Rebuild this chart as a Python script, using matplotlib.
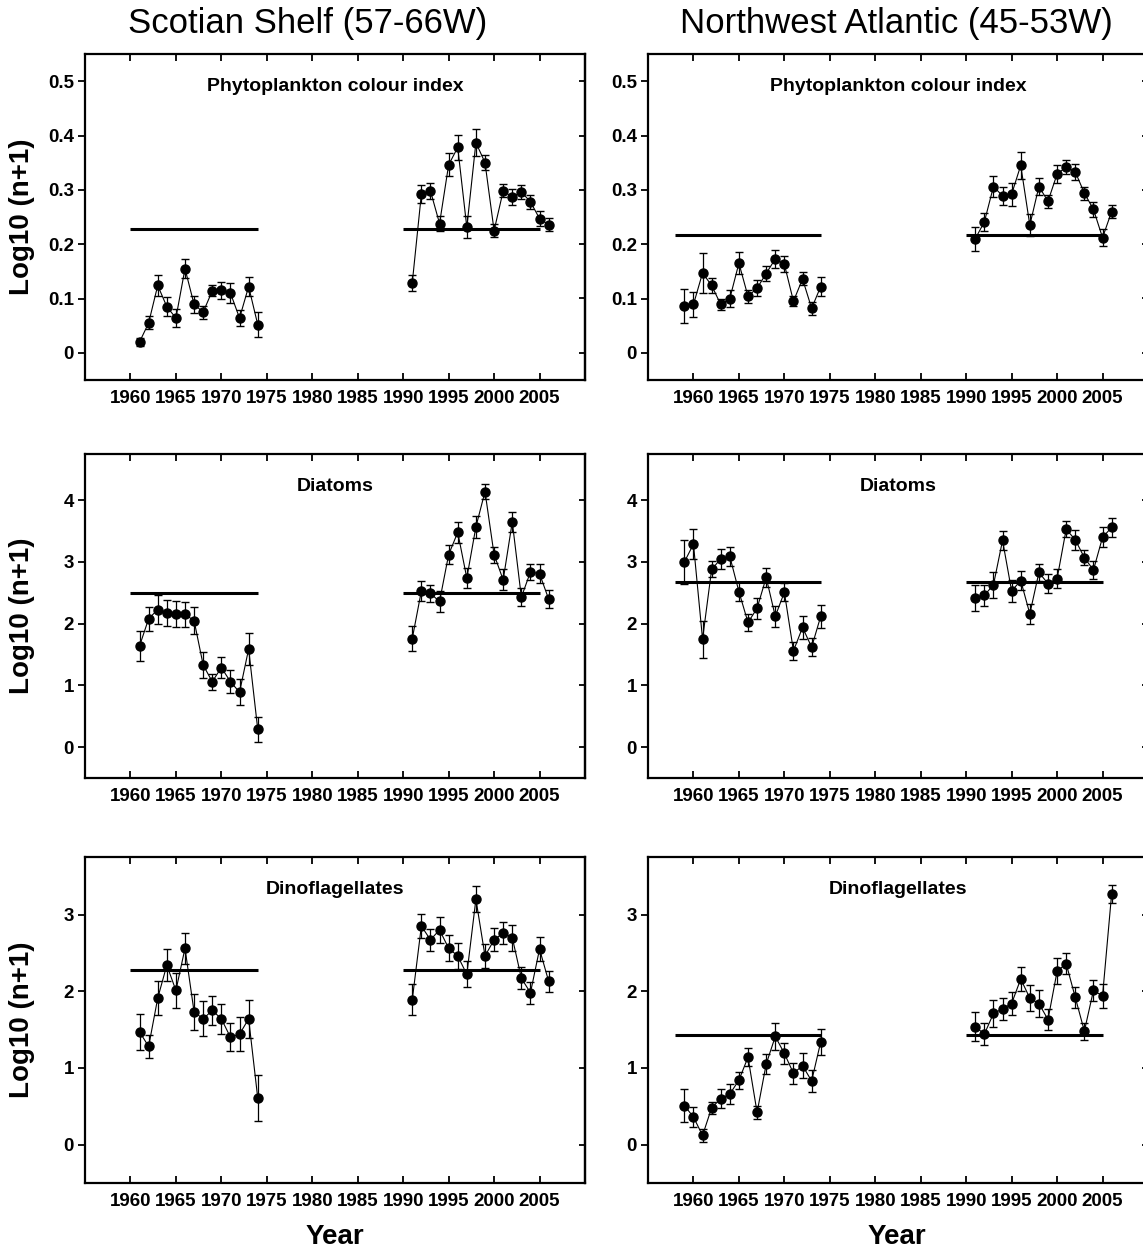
import numpy as np
import matplotlib
matplotlib.use('Agg')
import matplotlib.pyplot as plt

plt.rcParams['font.family'] = ['Liberation Sans', 'DejaVu Sans']

# years sampled
ss_early = list(range(1961, 1975))
nw_early = list(range(1959, 1975))
late = list(range(1991, 2007))

# long-term mean line spans (start year, end year)
ss_spans = [(1960, 1974), (1990, 2005)]
nw_spans = [(1958, 1974), (1990, 2005)]

# Scotian Shelf - phytoplankton colour index
ss_pci_a = [0.020, 0.055, 0.124, 0.085, 0.064, 0.155, 0.089, 0.075, 0.114, 0.115, 0.110, 0.064, 0.122, 0.052]
ss_pci_a_err = [0.008, 0.012, 0.019, 0.017, 0.016, 0.017, 0.015, 0.012, 0.010, 0.015, 0.018, 0.015, 0.018, 0.023]
ss_pci_b = [0.129, 0.292, 0.298, 0.238, 0.346, 0.378, 0.231, 0.387, 0.350, 0.225, 0.298, 0.287, 0.296, 0.278, 0.247, 0.236]
ss_pci_b_err = [0.015, 0.017, 0.015, 0.013, 0.021, 0.023, 0.020, 0.025, 0.014, 0.012, 0.012, 0.014, 0.012, 0.013, 0.014, 0.012]
ss_pci_mean = 0.228

# Northwest Atlantic - phytoplankton colour index
nw_pci_a = [0.086, 0.089, 0.147, 0.124, 0.089, 0.100, 0.165, 0.104, 0.119, 0.146, 0.173, 0.163, 0.095, 0.136, 0.082, 0.122]
nw_pci_a_err = [0.031, 0.023, 0.036, 0.014, 0.011, 0.015, 0.020, 0.012, 0.015, 0.014, 0.017, 0.015, 0.009, 0.012, 0.012, 0.017]
nw_pci_b = [0.210, 0.241, 0.306, 0.289, 0.292, 0.345, 0.235, 0.306, 0.279, 0.329, 0.342, 0.333, 0.294, 0.264, 0.212, 0.260]
nw_pci_b_err = [0.022, 0.017, 0.020, 0.017, 0.021, 0.025, 0.020, 0.015, 0.012, 0.017, 0.012, 0.014, 0.012, 0.014, 0.015, 0.012]
nw_pci_mean = 0.216

# Scotian Shelf - diatoms
ss_dia_a = [1.64, 2.08, 2.23, 2.18, 2.15, 2.15, 2.05, 1.33, 1.06, 1.29, 1.06, 0.89, 1.59, 0.29]
ss_dia_a_err = [0.24, 0.19, 0.23, 0.21, 0.21, 0.20, 0.22, 0.21, 0.13, 0.17, 0.19, 0.21, 0.26, 0.20]
ss_dia_b = [1.76, 2.53, 2.49, 2.36, 3.12, 3.48, 2.74, 3.57, 4.14, 3.12, 2.71, 3.65, 2.43, 2.84, 2.81, 2.40]
ss_dia_b_err = [0.20, 0.17, 0.14, 0.17, 0.16, 0.17, 0.16, 0.18, 0.12, 0.13, 0.17, 0.16, 0.15, 0.13, 0.15, 0.15]
ss_dia_mean = 2.495

# Northwest Atlantic - diatoms
nw_dia_a = [3.00, 3.29, 1.75, 2.88, 3.05, 3.09, 2.52, 2.02, 2.25, 2.75, 2.12, 2.51, 1.56, 1.94, 1.62, 2.12]
nw_dia_a_err = [0.35, 0.24, 0.30, 0.13, 0.16, 0.15, 0.15, 0.13, 0.17, 0.16, 0.17, 0.15, 0.15, 0.19, 0.15, 0.19]
nw_dia_b = [2.42, 2.46, 2.63, 3.35, 2.53, 2.70, 2.16, 2.83, 2.65, 2.73, 3.53, 3.36, 3.07, 2.87, 3.40, 3.56]
nw_dia_b_err = [0.21, 0.17, 0.21, 0.15, 0.18, 0.15, 0.16, 0.13, 0.16, 0.15, 0.13, 0.16, 0.12, 0.15, 0.16, 0.15]
nw_dia_mean = 2.68

# Scotian Shelf - dinoflagellates
ss_din_a = [1.47, 1.28, 1.91, 2.34, 2.01, 2.56, 1.73, 1.64, 1.75, 1.64, 1.40, 1.44, 1.64, 0.61]
ss_din_a_err = [0.23, 0.15, 0.22, 0.21, 0.23, 0.20, 0.23, 0.23, 0.19, 0.20, 0.18, 0.22, 0.25, 0.30]
ss_din_b = [1.89, 2.85, 2.67, 2.80, 2.56, 2.46, 2.22, 3.20, 2.46, 2.67, 2.76, 2.70, 2.17, 1.98, 2.55, 2.13]
ss_din_b_err = [0.20, 0.16, 0.14, 0.17, 0.17, 0.17, 0.17, 0.17, 0.16, 0.15, 0.14, 0.17, 0.14, 0.14, 0.16, 0.14]
ss_din_mean = 2.28

# Northwest Atlantic - dinoflagellates
nw_din_a = [0.51, 0.36, 0.12, 0.48, 0.60, 0.66, 0.84, 1.14, 0.42, 1.05, 1.41, 1.19, 0.93, 1.03, 0.83, 1.34]
nw_din_a_err = [0.21, 0.13, 0.09, 0.08, 0.12, 0.13, 0.11, 0.12, 0.09, 0.13, 0.17, 0.14, 0.14, 0.16, 0.14, 0.17]
nw_din_b = [1.54, 1.44, 1.71, 1.77, 1.84, 2.16, 1.91, 1.84, 1.63, 2.26, 2.36, 1.92, 1.48, 2.01, 1.94, 3.27]
nw_din_b_err = [0.19, 0.14, 0.17, 0.14, 0.15, 0.16, 0.17, 0.17, 0.14, 0.17, 0.14, 0.14, 0.11, 0.14, 0.16, 0.12]
nw_din_mean = 1.425

row_titles = ['Phytoplankton colour index', 'Diatoms', 'Dinoflagellates']
row_ylims = [(-0.05, 0.55), (-0.5, 4.75), (-0.5, 3.75)]
row_yticks = [[0, 0.1, 0.2, 0.3, 0.4, 0.5], [0, 1, 2, 3, 4], [0, 1, 2, 3]]
row_yticklabels = [['0', '0.1', '0.2', '0.3', '0.4', '0.5'],
                   ['0', '1', '2', '3', '4'], ['0', '1', '2', '3']]
xticks = [1960, 1965, 1970, 1975, 1980, 1985, 1990, 1995, 2000, 2005]

panels = [
    [(ss_early, ss_pci_a, ss_pci_a_err, ss_pci_b, ss_pci_b_err, ss_pci_mean, ss_spans),
     (nw_early, nw_pci_a, nw_pci_a_err, nw_pci_b, nw_pci_b_err, nw_pci_mean, nw_spans)],
    [(ss_early, ss_dia_a, ss_dia_a_err, ss_dia_b, ss_dia_b_err, ss_dia_mean, ss_spans),
     (nw_early, nw_dia_a, nw_dia_a_err, nw_dia_b, nw_dia_b_err, nw_dia_mean, nw_spans)],
    [(ss_early, ss_din_a, ss_din_a_err, ss_din_b, ss_din_b_err, ss_din_mean, ss_spans),
     (nw_early, nw_din_a, nw_din_a_err, nw_din_b, nw_din_b_err, nw_din_mean, nw_spans)],
]

W, H = 1143, 1253
fig = plt.figure(figsize=(W / 100, H / 100), dpi=100)

col_left = [85, 648]
row_top = [54, 454, 857]
row_bot = [380, 778, 1183]
panel_w = 500

for r in range(3):
    for c in range(2):
        ax = fig.add_axes([col_left[c] / W, 1 - row_bot[r] / H,
                           panel_w / W, (row_bot[r] - row_top[r]) / H])
        xa, ya, ea, yb, eb, mean, spans = panels[r][c]
        for x0, x1 in spans:
            ax.hlines(mean, x0, x1, color='black', lw=2.2, zorder=2)
        kw = dict(fmt='-o', color='black', ms=6.5, lw=0.8, elinewidth=0.9,
                  capsize=3, capthick=1.0, zorder=3)
        ax.errorbar(xa, ya, yerr=ea, **kw)
        ax.errorbar(late, yb, yerr=eb, **kw)

        ax.set_xlim(1955, 2010)
        ax.set_ylim(*row_ylims[r])
        ax.set_xticks(xticks)
        ax.set_yticks(row_yticks[r])
        ax.set_yticklabels(row_yticklabels[r])
        for lab in ax.get_xticklabels() + ax.get_yticklabels():
            lab.set_fontweight('bold')
        ax.tick_params(axis='x', direction='in', top=True, bottom=True,
                       length=5, width=1.3, labelsize=13.5, pad=7)
        ax.tick_params(axis='y', direction='out', left=True, right=False,
                       length=5, width=1.3, labelsize=13.5, pad=3)
        sec = ax.secondary_yaxis('right')
        sec.set_yticks(row_yticks[r])
        sec.tick_params(direction='in', length=4, width=1.3, labelright=False)
        sec.spines['right'].set_linewidth(1.6)
        for sp in ax.spines.values():
            sp.set_linewidth(1.6)
        ax.text(0.5, 0.9, row_titles[r], transform=ax.transAxes,
                ha='center', va='center', fontsize=14, fontweight='bold')

# column headings
fig.text(308 / W, 1 - 24 / H, 'Scotian Shelf (57-66W)', ha='center',
         va='center', fontsize=25)
fig.text(896 / W, 1 - 24 / H, 'Northwest Atlantic (45-53W)', ha='center',
         va='center', fontsize=25)

# y labels
for r in range(3):
    yc = (row_top[r] + row_bot[r]) / 2
    fig.text(22 / W, 1 - yc / H, 'Log10 (n+1)', rotation=90, ha='center',
             va='center', fontsize=20, fontweight='bold')

# x labels
fig.text(335 / W, 1 - 1237 / H, 'Year', ha='center', va='center',
         fontsize=20, fontweight='bold')
fig.text(897 / W, 1 - 1237 / H, 'Year', ha='center', va='center',
         fontsize=20, fontweight='bold')

fig.savefig('out.png', dpi=100)
